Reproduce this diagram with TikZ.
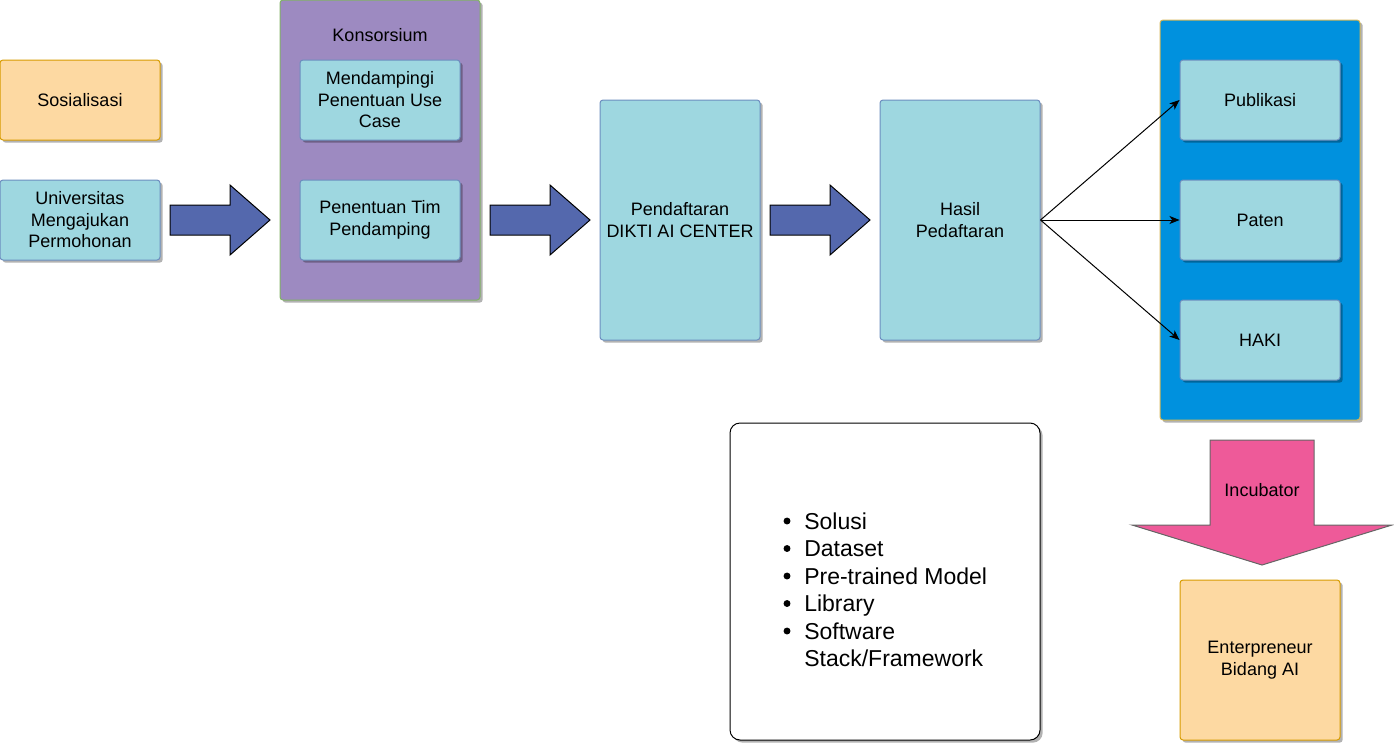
\documentclass[tikz,border=0pt]{standalone}
\usepackage{fontspec}
\setmainfont{Liberation Sans}
\usetikzlibrary{shadows,arrows.meta}
\definecolor{orfill}{HTML}{FDD9A2}
\definecolor{orline}{HTML}{D79B00}
\definecolor{ltblue}{HTML}{9ED7E0}
\definecolor{ltline}{HTML}{6C8EBF}
\definecolor{purp}{HTML}{9D8AC1}
\definecolor{purpline}{HTML}{82B366}
\definecolor{bigblue}{HTML}{0091DE}
\definecolor{bigline}{HTML}{D6B656}
\definecolor{arrblue}{HTML}{5468AD}
\definecolor{pink}{HTML}{EE5A99}
\definecolor{pinkline}{HTML}{666666}
\begin{document}
\begin{tikzpicture}[x=0.75pt,y=-0.75pt,
  font=\fontsize{13.5}{16.1}\selectfont,
  shad/.style={drop shadow={shadow xshift=2pt,shadow yshift=-2pt,opacity=0.3,fill=black}},
  basebox/.style={rectangle, rounded corners=2.25pt, line width=0.75pt, inner sep=0pt, align=center, shad},
  bluebox/.style={basebox, draw=ltline, fill=ltblue, minimum width=120pt, minimum height=60pt},
  orbox/.style={basebox, draw=orline, fill=orfill, minimum width=120pt, minimum height=60pt},
  blockarrow/.style={draw=black, fill=arrblue, line width=0.75pt},
  conn/.style={-{Stealth[length=7.5pt,width=6pt,inset=2pt]}, line width=0.75pt},
  listtxt/.style={font=\fontsize{17.25}{20.6}\selectfont, inner sep=0pt},
  bul/.style={fill=black}
]
\useasboundingbox (0,0) rectangle (1394,746);

% left column
\node[orbox] (sos) at (80,100) {Sosialisasi};
\node[bluebox] (univ) at (80,220) {Universitas\\Mengajukan\\Permohonan};

% arrow 1
\draw[blockarrow] (170,205) -- (230,205) -- (230,185) -- (270,220) -- (230,255) -- (230,235) -- (170,235) -- cycle;

% Konsorsium
\node[basebox, draw=purpline, fill=purp, minimum width=150pt, minimum height=225pt] (kons) at (380,150) {};
\node[inner sep=0pt] (konst) at (380,35) {Konsorsium};
\node[bluebox] (mend) at (380,100) {Mendampingi\\Penentuan Use\\Case};
\node[bluebox] (tim) at (380,220) {Penentuan Tim\\Pendamping};

% arrow 2
\draw[blockarrow] (490,205) -- (550,205) -- (550,185) -- (590,220) -- (550,255) -- (550,235) -- (490,235) -- cycle;

\node[bluebox, minimum height=180pt] (daftar) at (680,220) {Pendaftaran\\DIKTI AI CENTER};

% arrow 3
\draw[blockarrow] (770,205) -- (830,205) -- (830,185) -- (870,220) -- (830,255) -- (830,235) -- (770,235) -- cycle;

\node[bluebox, minimum height=180pt] (hasil) at (960,220) {Hasil\\Pedaftaran};

% output container
\node[basebox, draw=bigline, fill=bigblue, minimum width=150pt, minimum height=300pt] (outc) at (1260,220) {};
\node[bluebox] (pub) at (1260,100) {Publikasi};
\node[bluebox] (paten) at (1260,220) {Paten};
\node[bluebox] (haki) at (1260,340) {HAKI};

\draw[conn] (hasil.east) -- (pub.west);
\draw[conn] (hasil.east) -- (paten.west);
\draw[conn] (hasil.east) -- (haki.west);

% incubator arrow
\draw[draw=pinkline, fill=pink, line width=0.75pt] (1210,440) -- (1314,440) -- (1314,525) -- (1392,525) -- (1262,565) -- (1132,525) -- (1210,525) -- cycle;
\node[inner sep=0pt] (incub) at (1262,490) {Incubator};

\node[orbox, minimum height=120pt] (ent) at (1260,660) {Enterpreneur\\Bidang AI};

% list box
\node[basebox, draw=black, fill=white, rounded corners=7.5pt, minimum width=232.5pt, minimum height=237.75pt] (lbox) at (885,581.5) {};
\foreach \yy in {521,548.5,576,603.5,631} \fill[bul] (787,\yy) circle[radius=2.6pt];
\node[listtxt, anchor=base west] (l1) at (804,529) {Solusi};
\node[listtxt, anchor=base west] (l2) at (804,556.5) {Dataset};
\node[listtxt, anchor=base west] (l3) at (804,584) {Pre-trained Model};
\node[listtxt, anchor=base west] (l4) at (804,611.5) {Library};
\node[listtxt, anchor=base west] (l5) at (804,639) {Software};
\node[listtxt, anchor=base west] (l6) at (804,666.5) {Stack/Framework};
\end{tikzpicture}
\end{document}
